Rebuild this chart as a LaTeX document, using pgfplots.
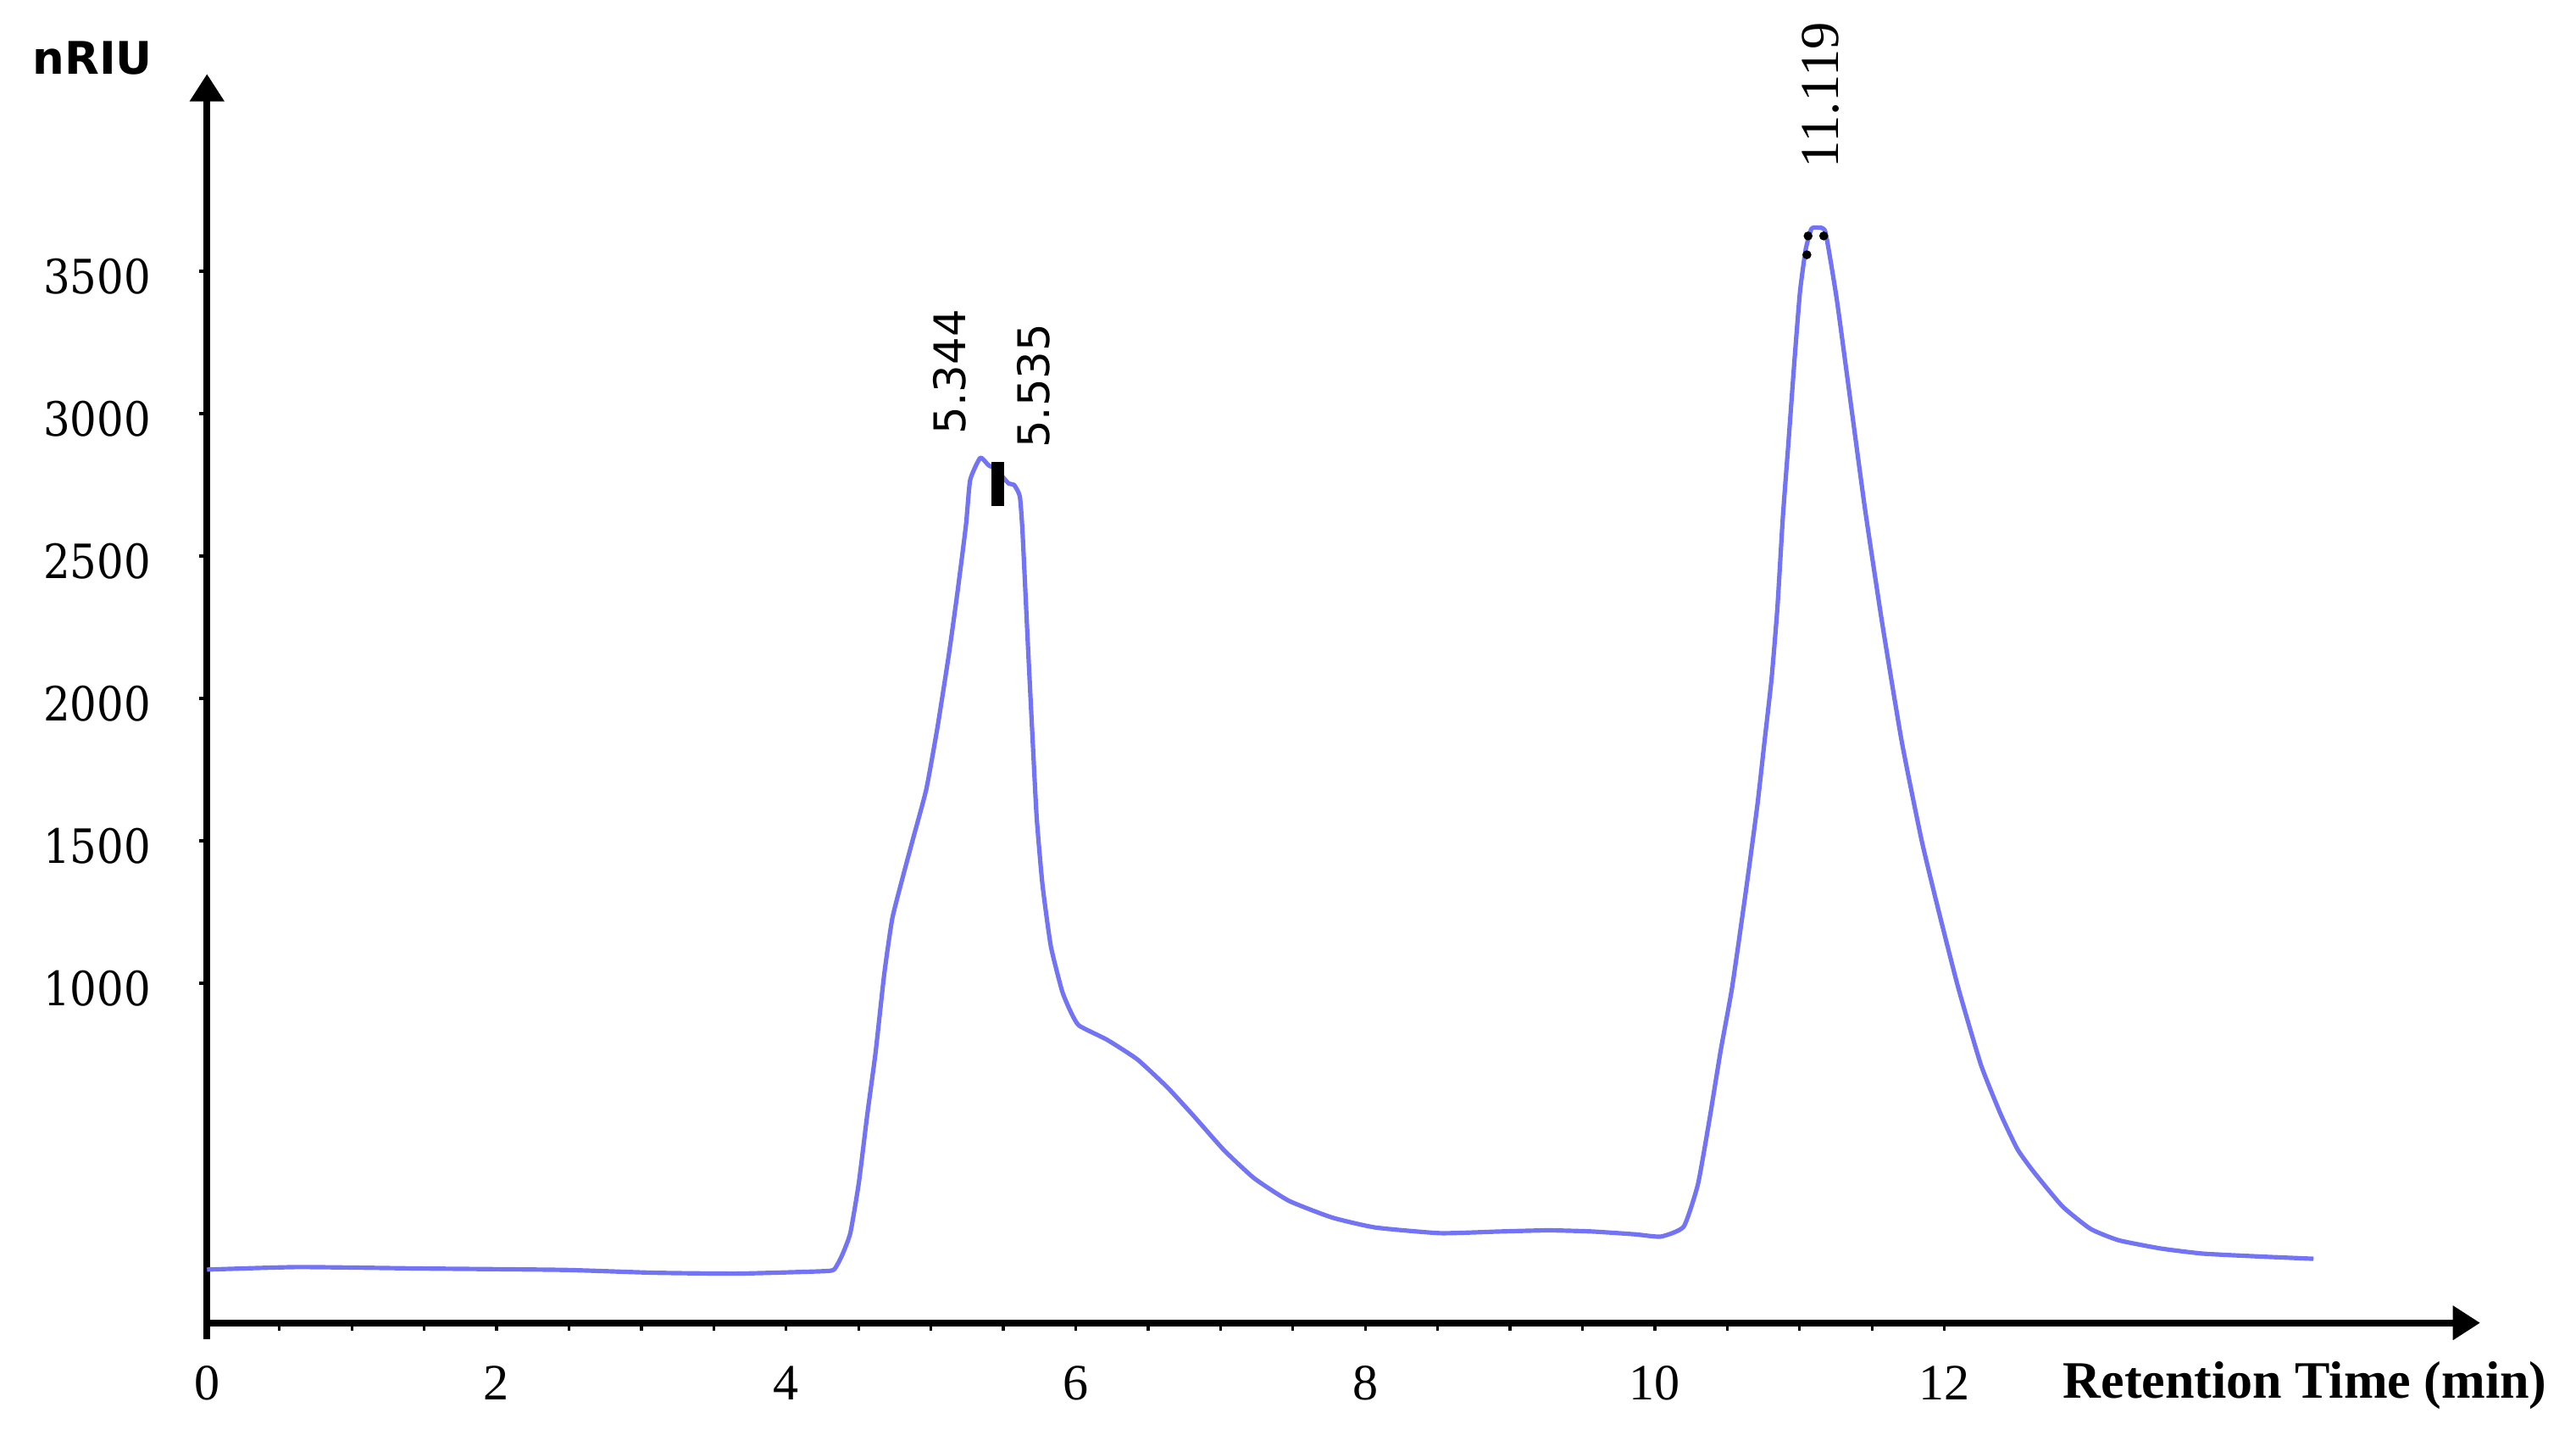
\documentclass[border=0pt]{standalone}
\usepackage{pgfplots}
\pgfplotsset{compat=1.18}
\usepackage{graphicx}
\usepackage{fontspec}
\usetikzlibrary{arrows.meta}
\setmainfont{Liberation Serif}
\newfontfamily\dvserif{DejaVu Serif}
\newfontfamily\dvsans{DejaVu Sans}
\definecolor{trace}{RGB}{115,115,245}
\newcommand\yl[1]{\scalebox{1}[1.12]{#1}}

\pgfplotstableread{
t v
0.000 -6
0.630 3
1.467 -2
2.460 -7
3.086 -17
3.660 -20
4.236 -12
4.330 -6
4.385 43
4.443 122
4.502 299
4.560 537
4.617 754
4.677 1030
4.733 1227
4.812 1385
4.880 1514
4.968 1681
5.045 1898
5.124 2155
5.183 2372
5.242 2609
5.271 2767
5.341 2845
5.397 2819
5.448 2805
5.536 2755
5.574 2750
5.614 2709
5.633 2580
5.671 2174
5.700 1878
5.730 1584
5.770 1347
5.828 1130
5.906 972
5.964 901
6.023 851
6.217 801
6.426 732
6.635 633
6.814 534
7.023 414
7.232 315
7.471 236
7.770 177
8.069 142
8.518 122
8.935 128
9.264 132
9.563 128
9.862 118
10.041 110
10.199 145
10.297 293
10.375 515
10.454 762
10.533 984
10.630 1329
10.708 1626
10.757 1848
10.806 2070
10.846 2317
10.884 2638
10.924 2909
10.963 3180
11.002 3427
11.041 3575
11.081 3649
11.129 3653
11.178 3637
11.256 3402
11.354 3032
11.452 2662
11.569 2267
11.705 1848
11.842 1502
11.959 1255
12.095 984
12.252 713
12.388 540
12.505 416
12.620 335
12.815 216
13.009 137
13.204 97
13.496 68
13.789 50
14.179 40
14.549 32
}\chrom

\begin{document}
\begin{tikzpicture}
\path[use as bounding box] (-37.8pt,-20.4pt) rectangle (432.6pt,241.5pt);
\begin{axis}[
  at={(0pt,0pt)}, anchor=south west,
  scale only axis, width=415.1pt, height=228.0pt,
  xmin=0, xmax=15.70, ymin=-193, ymax=4193,
  axis lines=left,
  axis line style={line width=1.25pt, -{Triangle[width=6pt,length=5pt]}},
  clip=false,
  tick align=outside,
  major tick length=1.4pt, minor tick length=0.6pt,
  every tick/.style={black, line width=0.5pt},
  xtick={0,0.5,...,12},
  xticklabels={0,,,,2,,,,4,,,,6,,,,8,,,,10,,,,12},
  ytick={1000,1500,2000,2500,3000,3500},
  yticklabels={\yl{1000},\yl{1500},\yl{2000},\yl{2500},\yl{3000},\yl{3500}},
  minor ytick={900,1000,...,3800},
  xticklabel style={font=\fontsize{9.3}{10}\selectfont, inner sep=0pt, anchor=base, yshift=-12.6pt},
  yticklabel style={font=\dvserif\fontsize{7.7}{9}\selectfont, inner sep=0pt, anchor=east, xshift=-8.7pt, yshift=-1pt},
]
\addplot[trace, line width=0.8pt, line join=round, smooth, tension=0.3] table[x=t, y=v] {\chrom};
\addplot[black, line width=2.3pt] coordinates {(5.463,2676) (5.463,2829)};
\addplot[only marks, mark=*, mark size=0.6pt, black] coordinates {(11.058,3624) (11.166,3624) (11.05,3558)};
\draw[line width=1.25pt] (axis cs:0,-180) -- (axis cs:0,-250);
\node[rotate=90, anchor=west, inner sep=0pt, font=\dvsans\fontsize{7.95}{9}\selectfont] at (axis cs:5.128,2924) {5.344};
\node[rotate=90, anchor=west, inner sep=0pt, font=\dvsans\fontsize{7.95}{9}\selectfont] at (axis cs:5.709,2875) {5.535};
\node[rotate=90, anchor=west, inner sep=0pt, font=\fontsize{10}{11}\selectfont] at (axis cs:11.146,3857) {11.119};
\end{axis}
\node[anchor=base, inner sep=0pt, font=\dvsans\bfseries\fontsize{8.2}{10}\selectfont] at (-20.9pt,228.0pt) {nRIU};
\node[anchor=base, inner sep=0pt, font=\bfseries\fontsize{9.6}{11}\selectfont] at (383.1pt,-13.8pt) {Retention Time (min)};
\end{tikzpicture}
\end{document}
